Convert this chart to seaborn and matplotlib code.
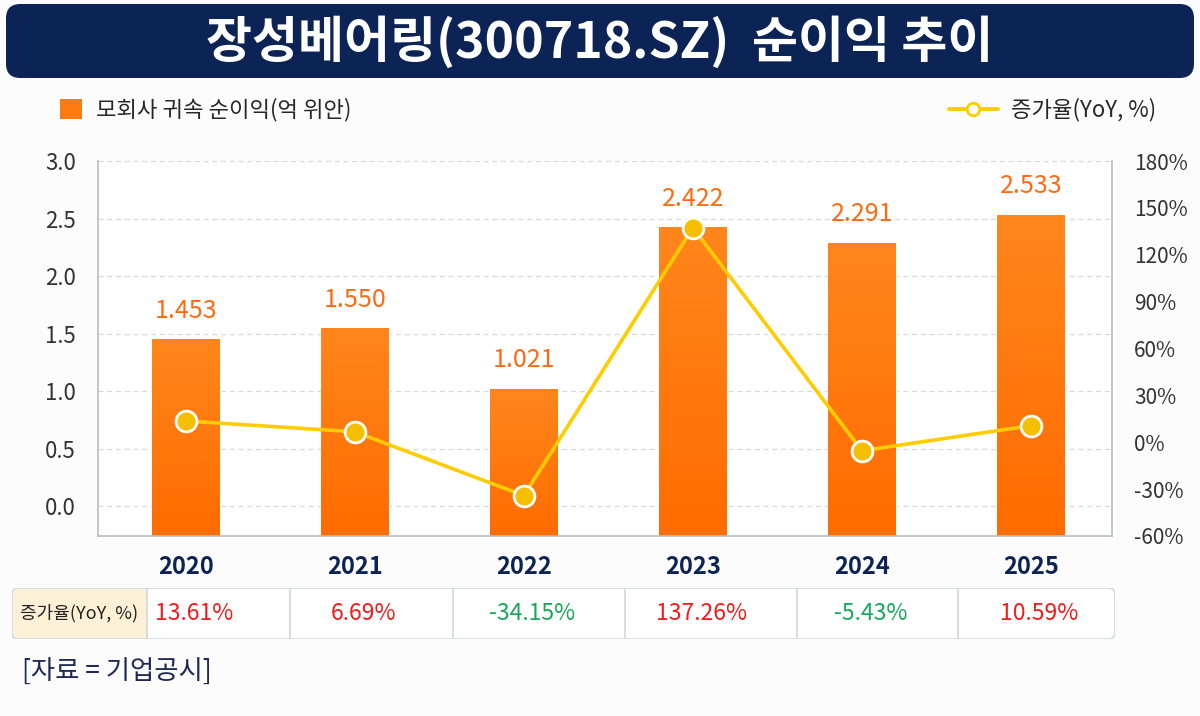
import numpy as np
import matplotlib
matplotlib.use('Agg')
import matplotlib.pyplot as plt
import matplotlib.transforms as mtrans
from matplotlib.patches import FancyBboxPatch, Rectangle, Patch
from matplotlib.lines import Line2D
import pandas as pd
import seaborn as sns

# data
years = ['2020', '2021', '2022', '2023', '2024', '2025']
profit = [1.453, 1.550, 1.021, 2.422, 2.291, 2.533]      # 억 위안
yoy = [13.61, 6.69, -34.15, 137.26, -5.43, 10.59]       # %

title = '장성베어링(300718.SZ)  순이익 추이'
bar_label = '모회사 귀속 순이익(억 위안)'
line_label = '증가율(YoY, %)'
source = '[자료 = 기업공시]'

sns.set_style('white')
plt.rcParams['font.family'] = ['Noto Sans CJK KR', 'DejaVu Sans']

NAVY = '#0c2356'
ORANGE = '#ff7410'
ORANGE_TXT = '#ff6a10'
YELLOW = '#ffcc00'
RED = '#f21a1a'
GREEN = '#16a85a'
GRID = '#d9d9d9'
SPINE = '#b9bcc2'

df = pd.DataFrame({'year': years, 'profit': profit, 'yoy': yoy})

fig = plt.figure(figsize=(12, 7.16), dpi=100)
fig.patch.set_facecolor('#fcfcfd')

# title banner
fig.add_artist(FancyBboxPatch((6 / 1200, 1 - 78 / 716), 1188 / 1200, 74 / 716,
                              boxstyle='round,pad=0,rounding_size=0.012',
                              mutation_aspect=1200 / 716,
                              transform=fig.transFigure, facecolor=NAVY,
                              edgecolor='none'))
fig.text(0.5, 1 - 42 / 716, title, ha='center', va='center', color='white',
         fontsize=36, fontweight='bold')

# main axes
ax = fig.add_axes([98 / 1200, 1 - 536 / 716, 1014 / 1200, 375 / 716])
ax.set_facecolor('white')
y0 = -0.26
xlim = (-0.52, len(years) - 0.52)
sns.barplot(data=df, x='year', y='profit', color=ORANGE, width=0.4,
            saturation=1, ax=ax, zorder=2)

# bars run down to the axis line, with a light vertical gradient
grad = np.linspace(0, 1, 100).reshape(-1, 1)
cmap = matplotlib.colors.LinearSegmentedColormap.from_list('og', ['#ff6c00', '#ff861c'])
for p in ax.patches:
    top = p.get_y() + p.get_height()
    p.set_y(y0)
    p.set_height(top - y0)
    x0 = p.get_x()
    im = ax.imshow(grad, extent=[x0, x0 + p.get_width(), y0, top], origin='lower',
                   cmap=cmap, aspect='auto', zorder=2.1)
    im.set_clip_path(p)
ax.set_ylim(y0, 3.0)
ax.set_xlim(*xlim)

for i, v in enumerate(profit):
    ax.annotate(f'{v:.3f}', (i, v), xytext=(0, 11), textcoords='offset points',
                ha='center', va='bottom', color=ORANGE_TXT, fontsize=18)

ax.set_yticks(np.arange(0, 3.01, 0.5))
ax.set_yticklabels([f'{t:.1f}' for t in np.arange(0, 3.01, 0.5)])
ax.yaxis.grid(True, linestyle=(0, (4, 3)), color=GRID, linewidth=0.9, zorder=0)
ax.set_axisbelow(True)
ax.tick_params(axis='y', length=0, pad=16, labelsize=16, labelcolor='#333333')
ax.tick_params(axis='x', length=0, pad=14, labelsize=17)
for lbl in ax.get_xticklabels():
    lbl.set_fontweight('bold')
    lbl.set_color(NAVY)
ax.set_xlabel('')
ax.set_ylabel('')
ax.spines['top'].set_visible(False)
for s in ['left', 'right', 'bottom']:
    ax.spines[s].set_color(SPINE)
    ax.spines[s].set_linewidth(1.2)

# growth line on the right axis
ax2 = ax.twinx()
sns.lineplot(x=np.arange(len(years)), y=yoy, ax=ax2, color=YELLOW, linewidth=2.6,
             marker='o', markersize=15, markerfacecolor='#f5bf00',
             markeredgecolor='white', markeredgewidth=2, zorder=5)
ax2.set_ylim(-60, 180)
ax2.set_xlim(*xlim)
ax2.set_yticks(np.arange(-60, 181, 30))
ax2.set_yticklabels([f'{t}%' for t in np.arange(-60, 181, 30)])
ax2.tick_params(axis='y', length=0, pad=16, labelsize=15, labelcolor='#333333')
ax2.grid(False)
for s in ['top', 'left', 'right', 'bottom']:
    ax2.spines[s].set_visible(False)

# legends
fig.legend(handles=[Patch(facecolor='#ff7a10', edgecolor='none')], labels=[bar_label],
           loc='center left', bbox_to_anchor=(40 / 1200, 1 - 110 / 716), frameon=False,
           fontsize=16, handlelength=1.0, handleheight=1.0, handletextpad=0.6)
fig.legend(handles=[Line2D([], [], color=YELLOW, linewidth=2.8, marker='o', markersize=9,
                           markerfacecolor='white', markeredgecolor=YELLOW,
                           markeredgewidth=2)],
           labels=[line_label], loc='center right',
           bbox_to_anchor=(1176 / 1200, 1 - 110 / 716), frameon=False, fontsize=16,
           handlelength=2.2, handletextpad=0.6)

# YoY table under the x axis
tax = fig.add_axes([12 / 1200, 1 - 639 / 716, 1103 / 1200, 51 / 716])
tax.set_xlim(0, 1)
tax.set_ylim(0, 1)
tax.axis('off')
aspect = 1103 / 51
tax.add_patch(FancyBboxPatch((0, 0), 1, 1, boxstyle='round,pad=0,rounding_size=0.006',
                             mutation_aspect=aspect, facecolor='white',
                             edgecolor='#d6d9df', linewidth=1.3, zorder=1))
edges = [0, 135 / 1103, 278 / 1103, 441 / 1103, 613 / 1103, 785 / 1103, 946 / 1103, 1]
tax.add_patch(FancyBboxPatch((0.0012, 0.02), edges[1] - 0.0012, 0.96,
                             boxstyle='round,pad=0,rounding_size=0.005',
                             mutation_aspect=aspect, facecolor='#fcf1d6',
                             edgecolor='none', zorder=2))
tax.add_patch(Rectangle((edges[1] - 0.01, 0.02), 0.01, 0.96, facecolor='#fcf1d6',
                        edgecolor='none', zorder=2))
for e in edges[1:-1]:
    tax.plot([e, e], [0, 1], color='#d6d9df', linewidth=1.3, zorder=3)
tax.text(edges[1] / 2, 0.5, line_label, ha='center', va='center', fontsize=13,
         color='#222222', zorder=4)
trans = mtrans.blended_transform_factory(ax.transData, tax.transAxes)
for i, v in enumerate(yoy):
    tax.text(i + 0.05, 0.5, f'{v:.2f}%', transform=trans, ha='center', va='center',
             fontsize=16.5, color=RED if v > 0 else GREEN, zorder=4)

fig.text(22 / 1200, 1 - 672 / 716, source, ha='left', va='center', fontsize=19,
         color='#1e2a55')

fig.savefig('out.png', dpi=100, facecolor=fig.get_facecolor())
